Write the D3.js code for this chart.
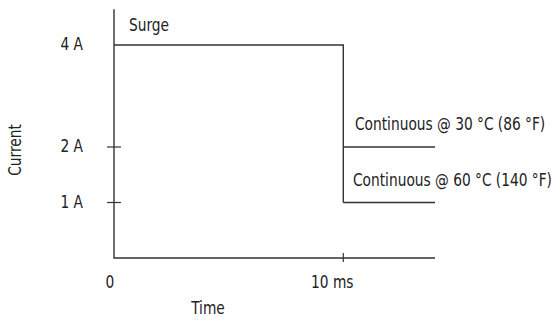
<!DOCTYPE html>
<html><head><meta charset="utf-8">
<script src="https://cdn.jsdelivr.net/npm/d3@7"></script>
<style>
html,body{margin:0;padding:0;background:#fff;}
text{font-family:"DejaVu Sans Condensed","Liberation Sans Narrow",sans-serif;fill:#222;}
</style></head>
<body><svg id="c" width="555" height="320"></svg>
<script>
// data
const timeTicks = [0, 10];
const timeTickLabels = ["0", "10 ms"];
const currentTicks = [4, 2, 1];
const currentTickLabels = ["4 A", "2 A", "1 A"];
const surge = [[0, 4], [10, 4], [10, 1]];
const cont30 = [[10, 2], [14, 2]];
const cont60 = [[10, 1], [14, 1]];
const seriesLabels = ["Surge", "Continuous @ 30 °C (86 °F)", "Continuous @ 60 °C (140 °F)"];
const timeMax = 14, currentTop = 4.7;

const svg = d3.select("#c");
const x = d3.scaleLinear().domain([0, timeMax]).range([114, 435]);
// schematic (non-uniform) current axis
const y = d3.scaleLinear().domain([0, 2, 4]).range([258, 147, 45]);
const stroke = "#333";
const FS = 17, SX = 0.9;

function label(tx, ty, str, anchor, rot) {
  const t = svg.append("text")
    .attr("transform", `translate(${tx},${ty})` + (rot ? ` rotate(${rot})` : "") + ` scale(${SX},1)`)
    .attr("font-size", FS).attr("text-anchor", anchor || "start").text(str);
  return t;
}

// axes lines
svg.append("path").attr("d", d3.line()([[x(0), y(currentTop)], [x(0), y(0)], [x(timeMax), y(0)]]))
  .attr("fill", "none").attr("stroke", stroke).attr("stroke-width", 1.4);

// y ticks (not at 4 A)
currentTicks.filter(d => d !== 4).forEach(d => {
  svg.append("line").attr("x1", x(0) - 7).attr("x2", x(0) + 7).attr("y1", y(d)).attr("y2", y(d))
    .attr("stroke", stroke).attr("stroke-width", 1.2);
});
currentTicks.forEach((d, i) => label(83, y(d) + 5, currentTickLabels[i], "end"));

// x ticks
svg.append("line").attr("x1", x(10)).attr("x2", x(10)).attr("y1", y(0) - 5).attr("y2", y(0) + 4)
  .attr("stroke", stroke).attr("stroke-width", 1.2);
label(x(0) - 4, y(0) + 30, timeTickLabels[0], "middle");
label(x(10) - 11, y(0) + 30, timeTickLabels[1], "middle");

// axis titles
label(21, 150, "Current", "middle", -90);
label(208, 314, "Time", "middle");

// series
const line = d3.line().x(d => x(d[0])).y(d => y(d[1]));
[surge, cont30, cont60].forEach(s => {
  svg.append("path").attr("d", line(s)).attr("fill", "none").attr("stroke", stroke).attr("stroke-width", 1.4);
});

// labels
label(129, 31, seriesLabels[0]);
label(355, 130, seriesLabels[1]);
label(353, 186, seriesLabels[2]);
</script></body></html>
